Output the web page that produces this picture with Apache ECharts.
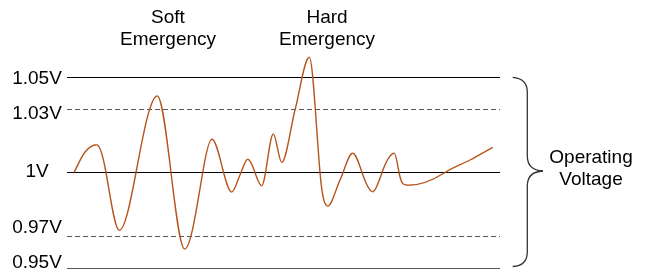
<!DOCTYPE html>
<html>
<head>
<meta charset="utf-8">
<script src="https://cdn.jsdelivr.net/npm/echarts@6/dist/echarts.min.js"></script>
<style>
  html, body { margin: 0; padding: 0; background: #fff; }
  #chart { width: 647px; height: 274px; }
</style>
</head>
<body>
<div id="chart"></div>
<script>
// schematic levels (offset from the 1V line, drawing units)
const tickLabels = ['1.05V', '1.03V', '1V', '0.97V', '0.95V'];
const labelLevels = [94, 59, 0.8, -55.5, -90.5];
const lineLevels = [95, 63.5, 0, -63.5, -95.5];
const lineDashed = [false, true, false, true, false];

// waveform (time in drawing units, level offset)
const waveX = [7, 18, 29.7, 39, 52.3, 69, 90.3, 104, 117.7, 135.7, 145, 164.7, 173, 180.7, 188, 194.7,
  206.3, 214.7, 228, 242.3, 253, 260.7, 273, 285.7, 295, 305.7, 315, 327.3, 332, 336.3, 341.3, 378, 403, 425.7];
const waveY = [0, 20.5, 27.8, 0, -57.8, 0, 76.5, 0, -76.5, 0, 33.2, -19.5, -2.5, 13.2, 0, -13.2,
  38.5, 10.2, 62.5, 115.2, 0, -33.5, -7.5, 19.2, 0, -19.2, 0, 19.2, 0, -11.5, -12.8, 0, 12.5, 25.2];

const annotations = [
  { text: 'Soft\nEmergency', x: 168, y: 7 },
  { text: 'Hard\nEmergency', x: 327, y: 7 },
  { text: 'Operating\nVoltage', x: 591, y: 147 }
];

const font = '"Liberation Sans", Arial, sans-serif';
const chart = echarts.init(document.getElementById('chart'));

const levelLines = lineLevels.map((v, i) => ({
  yAxis: v,
  lineStyle: {
    type: lineDashed[i] ? [5, 3] : 'solid',
    color: lineDashed[i] ? '#555' : (i === 4 ? '#555' : '#000'),
    width: 1.2
  }
}));

// right-hand brace
const braceStyle = { stroke: '#333', lineWidth: 1.3, fill: 'none' };
const brace = [
  { type: 'bezierCurve', shape: { x1: 512.7, y1: 77.3, cpx1: 522, cpy1: 78, cpx2: 527.3, cpy2: 82, x2: 527.3, y2: 92 } },
  { type: 'line', shape: { x1: 527.3, y1: 92, x2: 527.3, y2: 156 } },
  { type: 'bezierCurve', shape: { x1: 527.3, y1: 156, cpx1: 527.3, cpy1: 166, cpx2: 533, cpy2: 170.5, x2: 543, y2: 171 } },
  { type: 'bezierCurve', shape: { x1: 543, y1: 171, cpx1: 533, cpy1: 171.5, cpx2: 527.3, cpy2: 176, x2: 527.3, y2: 186 } },
  { type: 'line', shape: { x1: 527.3, y1: 186, x2: 527.3, y2: 252 } },
  { type: 'bezierCurve', shape: { x1: 527.3, y1: 252, cpx1: 527.3, cpy1: 262, cpx2: 522, cpy2: 266, x2: 512.7, y2: 266.5 } }
].map(el => Object.assign(el, { style: braceStyle }));

// hermite segment between point i and i+1 (flat at extremes, steeper at zero crossings)
const n = waveX.length;
function renderWave(params, api) {
  const i = params.dataIndex;
  if (i >= n - 1) return null;
  const pts = waveX.map((x, k) => api.coord([x, waveY[k]]));
  const sec = k => (pts[k + 1][1] - pts[k][1]) / (pts[k + 1][0] - pts[k][0]);
  const tangent = k => {
    if (k === 0) return sec(0);
    if (k === n - 1) return sec(n - 2);
    const s0 = sec(k - 1), s1 = sec(k);
    if (s0 * s1 <= 0) return 0;
    const crossing = waveY[k] === 0 && waveY[k - 1] * waveY[k + 1] < 0;
    let m = (s0 + s1) / 2 * (crossing ? 1.5 : 1);
    const lim = 3 * Math.min(Math.abs(s0), Math.abs(s1));
    if (Math.abs(m) > lim) m = Math.sign(m) * lim;
    return m;
  };
  const p1 = pts[i], p2 = pts[i + 1];
  const d = (p2[0] - p1[0]) / 3;
  const m1 = tangent(i), m2 = tangent(i + 1);
  return {
    type: 'bezierCurve',
    shape: {
      x1: p1[0], y1: p1[1],
      cpx1: p1[0] + d, cpy1: p1[1] + m1 * d,
      cpx2: p2[0] - d, cpy2: p2[1] - m2 * d,
      x2: p2[0], y2: p2[1]
    },
    style: { stroke: '#b5541c', lineWidth: 1.4, fill: 'none' }
  };
}

const option = {
  animation: false,
  grid: { left: 67, right: 147, top: 77.5, bottom: 6 },
  xAxis: {
    type: 'value', min: 0, max: 433,
    axisLine: { show: false }, axisTick: { show: false },
    axisLabel: { show: false }, splitLine: { show: false }
  },
  yAxis: {
    type: 'value', min: -95.5, max: 95,
    axisLine: { show: false }, axisTick: { show: false }, splitLine: { show: false },
    axisLabel: {
      customValues: labelLevels,
      formatter: v => tickLabels[labelLevels.indexOf(v)],
      fontFamily: font, fontSize: 19, color: '#000', margin: 30, align: 'center'
    }
  },
  series: [
    {
      type: 'line',
      data: [],
      silent: true,
      markLine: {
        silent: true,
        symbol: 'none',
        label: { show: false },
        data: levelLines
      }
    },
    {
      type: 'custom',
      data: waveX.map((x, i) => [x, waveY[i]]),
      renderItem: renderWave,
      clip: false,
      silent: true,
      z: 5
    }
  ],
  graphic: [
    ...annotations.map(a => ({
      type: 'text', x: a.x, y: a.y,
      style: {
        text: a.text, align: 'center', verticalAlign: 'top',
        font: '19px ' + font, lineHeight: 22, fill: '#000'
      }
    })),
    ...brace
  ]
};

chart.setOption(option);
</script>
</body>
</html>
